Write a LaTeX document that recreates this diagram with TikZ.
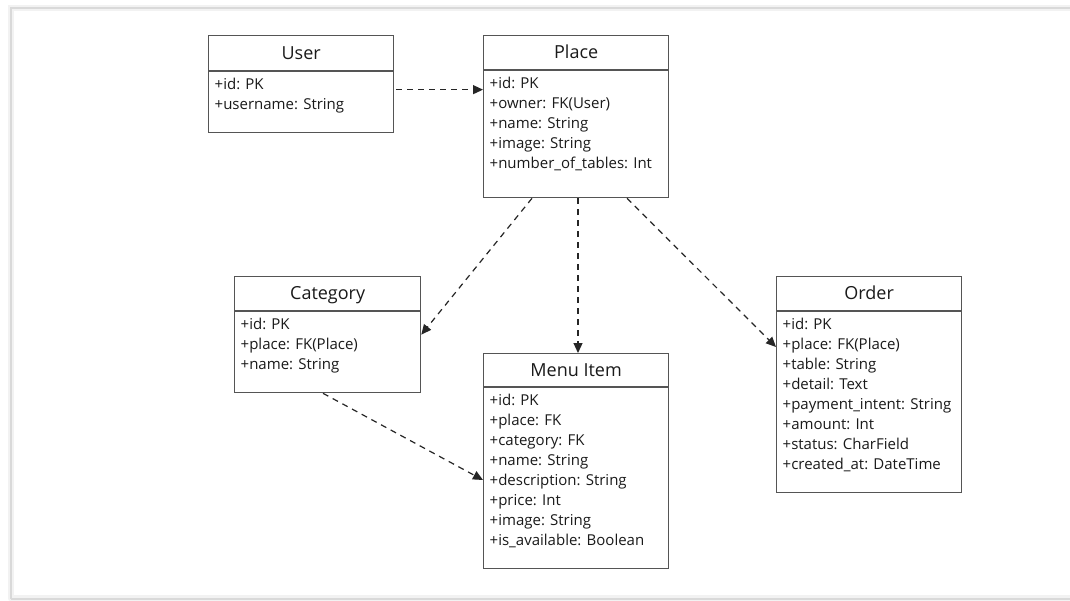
\documentclass[tikz,border=0pt]{standalone}
\usepackage{fontspec}
\setmainfont{Open Sans}
\usetikzlibrary{arrows.meta}

\definecolor{inkline}{HTML}{555555}
\definecolor{inktext}{HTML}{1A1A1A}

\tikzset{
  classbox/.style={draw=inkline, line width=1.3pt, fill=white, inner sep=0pt, rectangle},
  sepline/.style={draw=inkline, line width=1.1pt},
  titletext/.style={inner sep=0pt, text=inktext, font=\fontsize{18}{20}\selectfont},
  attrtext/.style={inner sep=0pt, text=inktext, font=\fontsize{15}{20}\selectfont},
  dep/.style={draw=black!85, line width=1.2pt, dash pattern=on 6pt off 5pt,
    -{Triangle[length=10pt, width=9pt]}},
  shadowline/.style={line cap=round},
}

% \umlclass{name}{x}{y}{width}{height}{header height}{title}{attributes}
\newcommand\umlclass[8]{%
  \node[classbox, minimum width=#4, minimum height=#5, anchor=north west] (#1) at (#2,#3) {};
  \draw[sepline] ([yshift=-#6]#1.north west) -- ([yshift=-#6]#1.north east);
  \node[titletext, anchor=base] (#1-title) at ([yshift=-#6/2-6.5]#1.north) {#7};
  \foreach \a [count=\i] in {#8}
    \node[attrtext, anchor=base west] (#1-a\i) at ([xshift=6.5, yshift=-#6-18.3-\i*20+20]#1.north west) {\a};
}

\begin{document}
\begin{tikzpicture}[x=1pt, y=-1pt]
  \useasboundingbox (0,0) rectangle (1070,601);
  \fill[white] (0,0) rectangle (1070,601);

  % soft page frame
  \draw[shadowline, black!5, line width=6pt] (11,598) -- (11,8) -- (1075,8);
  \draw[shadowline, black!5, line width=6pt] (11,598) -- (1075,598);
  \draw[black!15, line width=1.5pt] (11,599) -- (11,8) -- (1075,8);
  \draw[black!15, line width=1.5pt] (11,599) -- (1075,599);

  \umlclass{user}{208}{35}{185}{97}{36}{User}
    {+id: PK, +username: String}
  \umlclass{place}{483}{35}{185}{162}{35}{Place}
    {+id: PK, +owner: FK(User), +name: String, +image: String, +number\_of\_tables: Int}
  \umlclass{category}{234}{276}{186}{116}{35}{Category}
    {+id: PK, +place: FK(Place), +name: String}
  \umlclass{menu}{483}{353}{185}{215}{34}{Menu Item}
    {+id: PK, +place: FK, +category: FK, +name: String, +description: String, +price: Int, +image: String, +is\_available: Boolean}
  \umlclass{order}{776}{276}{185}{216}{35}{Order}
    {+id: PK, +place: FK(Place), +table: String, +detail: Text, +payment\_intent: String, +amount: Int, +status: CharField, +created\_at: DateTime}

  % dependencies
  \draw[dep] ([xshift=2, yshift=-5.5]user.east) -- ([yshift=-5.5]user.east -| place.west);
  \draw[dep] ([xshift=49]place.south west) -- (category.east);
  \draw[dep] ([xshift=95]place.south west) -- ([xshift=95]menu.north west);
  \draw[dep] ([xshift=144]place.south west) -- ([yshift=-71]order.north west);
  \draw[dep] ([xshift=89]category.south west) -- ([yshift=-127]menu.north west);
\end{tikzpicture}
\end{document}
